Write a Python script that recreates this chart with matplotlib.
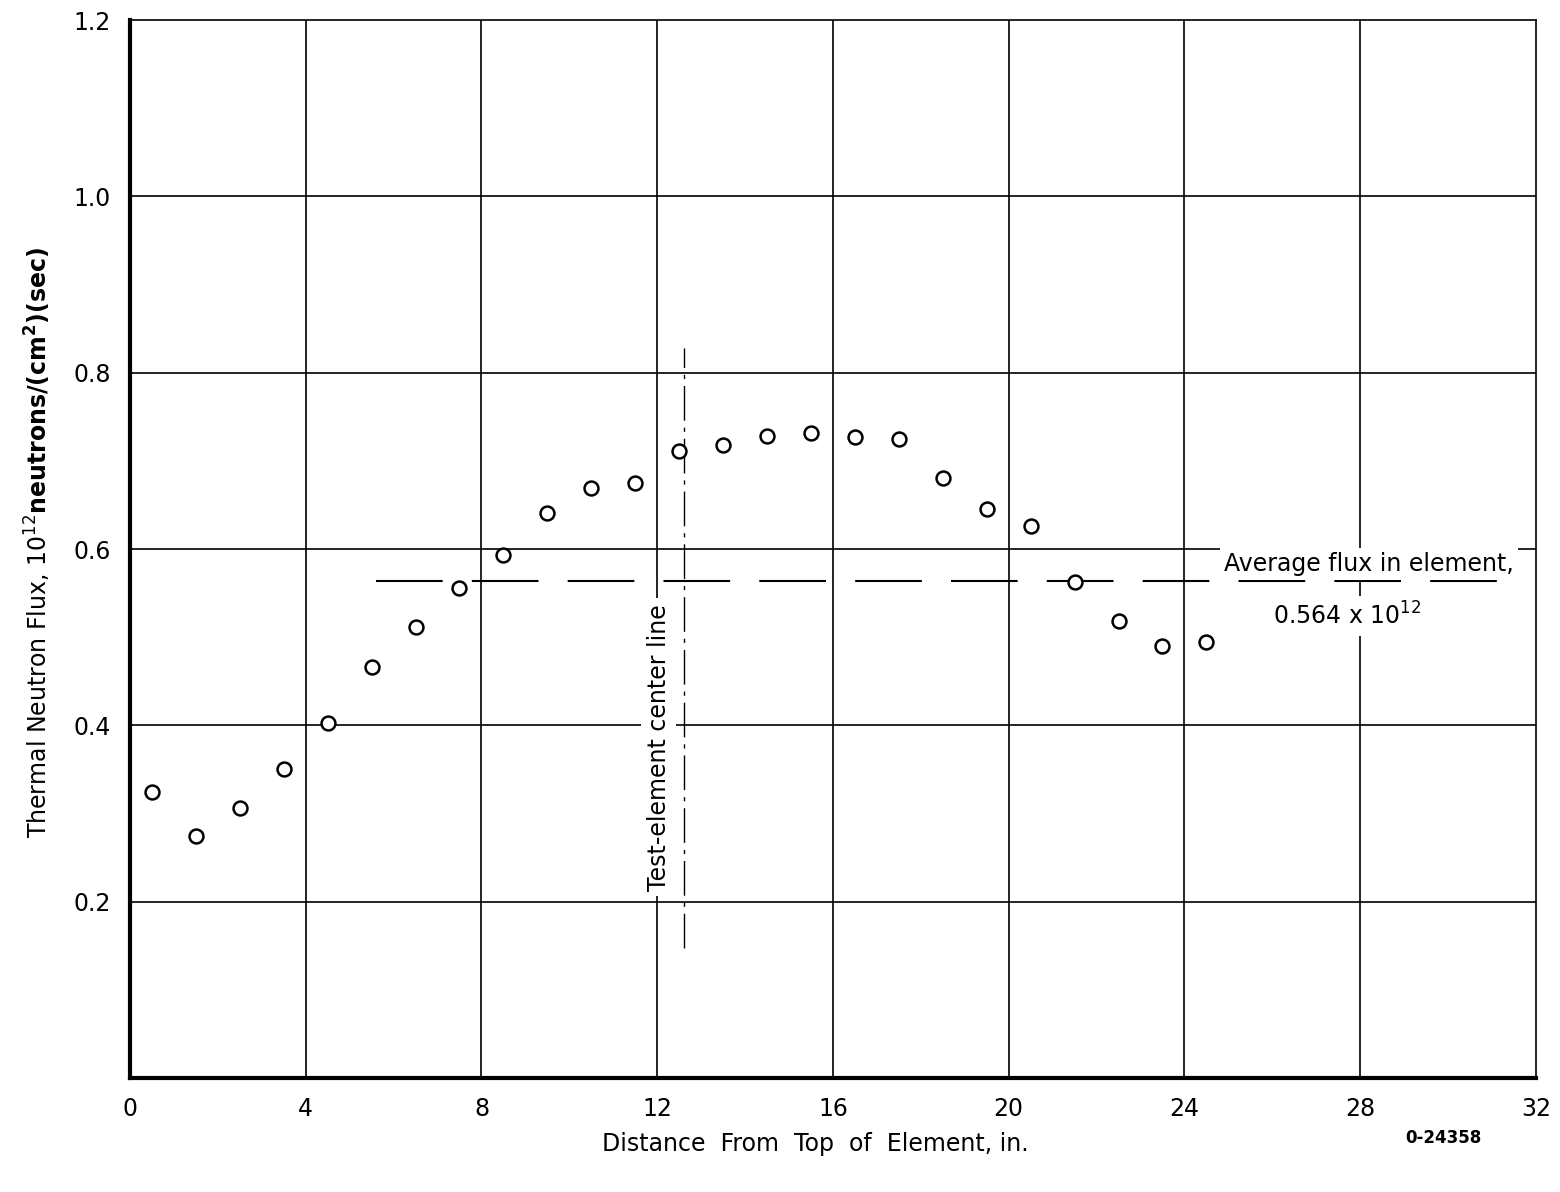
import numpy as np
import matplotlib.pyplot as plt

# dados
dist = [0.5, 1.5, 2.5, 3.5, 4.5, 5.5, 6.5, 7.5, 8.5, 9.5, 10.5, 11.5, 12.5,
        13.5, 14.5, 15.5, 16.5, 17.5, 18.5, 19.5, 20.5, 21.5, 22.5, 23.5, 24.5]
flux = [0.324, 0.275, 0.306, 0.350, 0.403, 0.466, 0.512, 0.556, 0.593, 0.641,
        0.669, 0.675, 0.711, 0.718, 0.728, 0.732, 0.727, 0.725, 0.681, 0.645,
        0.626, 0.563, 0.518, 0.490, 0.495]
avg_flux = 0.564
avg_x = [5.6, 31.7]
center_x = 12.6
center_y = [0.148, 0.828]
xticks = [0, 4, 8, 12, 16, 20, 24, 28, 32]
yticks = [0.2, 0.4, 0.6, 0.8, 1.0, 1.2]
ytick_labels = ['0.2', '0.4', '0.6', '0.8', '1.0', '1.2']

plt.rcParams['mathtext.fontset'] = 'dejavusans'

fig = plt.figure(figsize=(15.6, 11.92), dpi=100)
ax = fig.add_axes([0.0833, 0.0956, 0.9013, 0.8876])

# grade
for xv in xticks[1:-1]:
    ax.axvline(xv, color='black', lw=1.2, zorder=1)
for yv in yticks[:-1]:
    ax.axhline(yv, color='black', lw=1.2, zorder=1)

# linha do fluxo medio
ax.plot(avg_x, [avg_flux, avg_flux], color='black', lw=1.5,
        dashes=(32, 14), zorder=2)
# linha central do elemento
ax.plot([center_x, center_x], center_y, color='black', lw=1.0,
        dashes=(25, 5, 3, 5), zorder=2)

ax.plot(dist, flux, 'o', mfc='white', mec='black', ms=10, mew=1.8, zorder=4)

ax.text(12.03, 0.375, 'Test-element center line', rotation=90,
        ha='center', va='center', fontsize=17, zorder=3,
        bbox=dict(facecolor='white', edgecolor='none', pad=4))
ax.text(28.2, 0.583, 'Average flux in element,', ha='center', va='center',
        fontsize=17, zorder=3,
        bbox=dict(facecolor='white', edgecolor='none', pad=3))
ax.text(27.7, 0.524, r'0.564 x 10$^{12}$', ha='center', va='center',
        fontsize=17, zorder=3,
        bbox=dict(facecolor='white', edgecolor='none', pad=5))

ax.set_xlim(0, 32)
ax.set_ylim(0, 1.2)
ax.set_xticks(xticks)
ax.set_yticks(yticks)
ax.set_yticklabels(ytick_labels)
ax.tick_params(length=0, labelsize=17, pad=14)
ax.spines['left'].set_linewidth(3)
ax.spines['bottom'].set_linewidth(3)
ax.spines['top'].set_linewidth(1.2)
ax.spines['right'].set_linewidth(1.2)

fig.text(0.5225, 0.04, 'Distance  From  Top  of  Element, in.',
         ha='center', va='center', fontsize=17)
fig.text(0.925, 0.045, '0-24358', ha='center', va='center',
         fontsize=12, fontweight='bold')
fig.text(0.024, 0.545,
         r'Thermal Neutron Flux, 10$^{12}$$\mathbf{neutrons/(cm^2)(sec)}$',
         rotation=90, ha='center', va='center', fontsize=17)

fig.savefig('out.png', dpi=100)
